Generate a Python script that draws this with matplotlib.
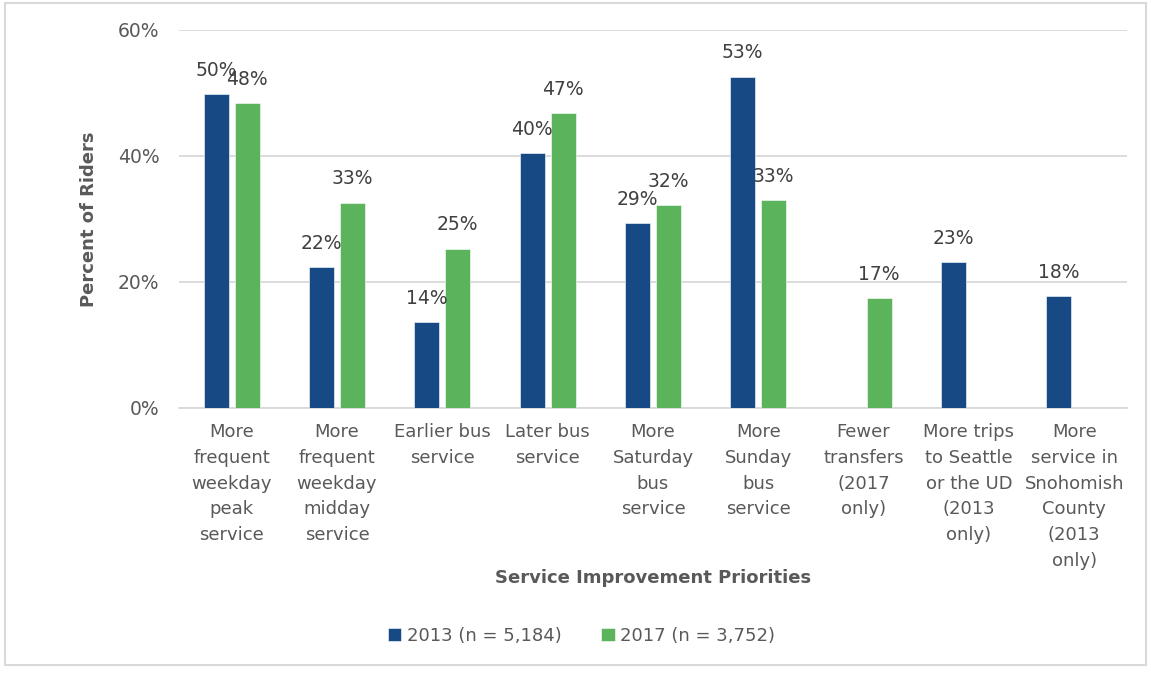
import numpy as np
import matplotlib
matplotlib.use("Agg")
import matplotlib.pyplot as plt
from matplotlib.patches import Rectangle

# survey results: share of riders choosing each improvement (nan = not asked)
categories = [
    "More\nfrequent\nweekday\npeak\nservice",
    "More\nfrequent\nweekday\nmidday\nservice",
    "Earlier bus\nservice",
    "Later bus\nservice",
    "More\nSaturday\nbus\nservice",
    "More\nSunday\nbus\nservice",
    "Fewer\ntransfers\n(2017\nonly)",
    "More trips\nto Seattle\nor the UD\n(2013\nonly)",
    "More\nservice in\nSnohomish\nCounty\n(2013\nonly)",
]
pct_2013 = [49.8, 22.3, 13.7, 40.4, 29.3, 52.6, np.nan, 23.2, 17.8]
pct_2017 = [48.4, 32.6, 25.3, 46.8, 32.2, 33.0, 17.4, np.nan, np.nan]
series_names = ["2013 (n = 5,184)", "2017 (n = 3,752)"]
yticks = [0, 20, 40, 60]

BLUE = "#174A84"
GREEN = "#5BB35C"
GRID = "#D9D9D9"
TXT = "#595959"
LBL = "#404040"

plt.rcParams["font.family"] = ["DejaVu Sans"]

fig = plt.figure(figsize=(11.51, 6.73), dpi=100)
ax = fig.add_axes([0.1555, 0.3938, 0.8236, 0.5617])

x = np.arange(len(categories))
w = 0.237
off = 0.147

for vals, dx, col, name in [(pct_2013, -off, BLUE, series_names[0]),
                            (pct_2017, off, GREEN, series_names[1])]:
    vals = np.array(vals, dtype=float)
    ok = ~np.isnan(vals)
    ax.bar(x[ok] + dx, vals[ok], width=w, color=col, label=name,
           edgecolor="white", linewidth=0.4, zorder=3)
    for xi, v in zip(x[ok] + dx, vals[ok]):
        ax.annotate(f"{v:.0f}%", (xi, v), xytext=(0, 17),
                    textcoords="offset points", ha="center", va="center",
                    fontsize=13.5, color=LBL, zorder=4)

ax.set_xlim(-0.5, len(categories) - 0.5)
ax.set_ylim(0, 60)
ax.set_yticks(yticks)
ax.set_yticklabels([f"{t}%" for t in yticks], fontsize=13.5, color=TXT)
ax.set_xticks(x)
ax.set_xticklabels(categories, fontsize=13, color=TXT, linespacing=1.55,
                   va="top")
ax.tick_params(axis="y", length=0, pad=14)
ax.tick_params(axis="x", length=0, pad=11)
ax.grid(axis="y", color=GRID, linewidth=1.3, zorder=0)
for s in ["top", "right", "left"]:
    ax.spines[s].set_visible(False)
ax.spines["bottom"].set_color(GRID)
ax.spines["bottom"].set_linewidth(1.3)

ax.set_ylabel("Percent of Riders", fontsize=13, fontweight="bold",
              color=TXT, labelpad=14)
fig.text(0.567, 1 - 578 / 673, "Service Improvement Priorities",
         ha="center", va="center", fontsize=13, fontweight="bold", color=TXT)

fig.legend(loc="center", bbox_to_anchor=(0.505, 1 - 636 / 673), ncol=2,
           frameon=False, fontsize=13, handlelength=0.75, handleheight=0.75,
           handletextpad=0.3, columnspacing=2.2, labelcolor=TXT)

# light frame round the whole chart
fig.patches.append(Rectangle((0.004, 0.012), 0.992, 0.983,
                             transform=fig.transFigure, fill=False,
                             edgecolor=GRID, linewidth=1.5))

fig.savefig("out.png", dpi=100, facecolor="white")
